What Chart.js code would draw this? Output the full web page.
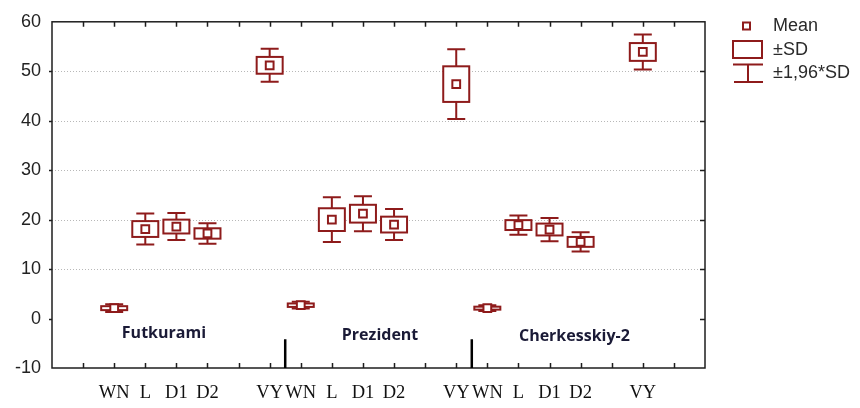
<!DOCTYPE html>
<html>
<head>
<meta charset="utf-8">
<script src="https://cdn.jsdelivr.net/npm/chart.js@4.4.1/dist/chart.umd.min.js"></script>
<style>
html, body { margin: 0; padding: 0; background: #fff; }
#wrap { width: 860px; height: 408px; }
</style>
</head>
<body>
<div id="wrap"><canvas id="plot"></canvas></div>
<script>
let groups = ['Futkurami', 'Prezident', 'Cherkesskiy-2'];
let categories = ['WN', 'L', 'D1', 'D2', 'VY'];
// slot of each category on the x axis, per group
let slots = [[2, 3, 4, 5, 7], [8, 9, 10, 11, 13], [14, 15, 16, 17, 19]];
let means = [
  [2.1, 18.1, 18.6, 17.2, 51.2],
  [2.7, 20.0, 21.2, 19.0, 47.4],
  [2.1, 18.9, 18.0, 15.5, 53.9]
];
let sds = [
  [0.4, 1.6, 1.4, 1.05, 1.7],
  [0.35, 2.3, 1.8, 1.6, 3.6],
  [0.3, 1.0, 1.2, 1.0, 1.8]
];
let groupBreaks = [7.5, 13.5];

let red = '#8e1b1b';

let xLabels = [];
for (let i = 0; i <= 21; i++) xLabels.push('');
groups.forEach((g, gi) => slots[gi].forEach((s, ci) => { xLabels[s] = categories[ci]; }));

let points = [];
groups.forEach((g, gi) => slots[gi].forEach((s, ci) => {
  points.push({ x: s, y: means[gi][ci], sd: sds[gi][ci] });
}));

// where the group names sit (x slot, y value)
let groupLabelPos = [[3.6, -3.0], [10.55, -3.4], [16.8, -3.6]];

let boxPlugin = {
  id: 'boxes',
  beforeDatasetsDraw(chart) {
    let c = chart.ctx, xs = chart.scales.x, ys = chart.scales.y, a = chart.chartArea;
    c.save();
    // dotted grid
    c.strokeStyle = '#b8b8b8';
    c.lineWidth = 1;
    c.setLineDash([1, 2]);
    [10, 20, 30, 40, 50].forEach(v => {
      let y = Math.round(ys.getPixelForValue(v)) + 0.5;
      c.beginPath(); c.moveTo(a.left, y); c.lineTo(a.right, y); c.stroke();
    });
    c.setLineDash([]);

    // boxes and whiskers
    c.strokeStyle = red;
    c.lineWidth = 2;
    points.forEach(p => {
      let x = xs.getPixelForValue(p.x);
      let wTop = ys.getPixelForValue(p.y + 1.96 * p.sd);
      let wBot = ys.getPixelForValue(p.y - 1.96 * p.sd);
      let bTop = ys.getPixelForValue(p.y + p.sd);
      let bBot = ys.getPixelForValue(p.y - p.sd);
      c.beginPath();
      c.moveTo(x, wTop); c.lineTo(x, bTop);
      c.moveTo(x, bBot); c.lineTo(x, wBot);
      c.moveTo(x - 9, wTop); c.lineTo(x + 9, wTop);
      c.moveTo(x - 9, wBot); c.lineTo(x + 9, wBot);
      c.stroke();
      c.fillStyle = '#fff';
      c.fillRect(x - 13, bTop, 26, bBot - bTop);
      c.strokeRect(x - 13, bTop, 26, bBot - bTop);
    });
    c.restore();
  },
  afterDraw(chart) {
    let c = chart.ctx, xs = chart.scales.x, ys = chart.scales.y, a = chart.chartArea;
    c.save();
    c.strokeStyle = '#1e1e1e';
    c.lineWidth = 1.5;
    c.strokeRect(a.left, a.top, a.right - a.left, a.bottom - a.top);

    // inward ticks top / bottom
    c.beginPath();
    for (let i = 1; i < 21; i++) {
      let x = Math.round(xs.getPixelForValue(i)) + 0.5;
      c.moveTo(x, a.top); c.lineTo(x, a.top + 5);
      c.moveTo(x, a.bottom); c.lineTo(x, a.bottom - 5);
    }
    for (let v = 0; v <= 50; v += 10) {
      let y = Math.round(ys.getPixelForValue(v)) + 0.5;
      c.moveTo(a.right, y); c.lineTo(a.right - 5, y);
      c.moveTo(a.left, y); c.lineTo(a.left - 3, y);
    }
    c.stroke();

    // group separators
    c.lineWidth = 2.5;
    c.strokeStyle = '#000';
    c.beginPath();
    groupBreaks.forEach(b => {
      let x = xs.getPixelForValue(b);
      c.moveTo(x, a.bottom); c.lineTo(x, ys.getPixelForValue(-4.2));
    });
    c.stroke();

    // group names
    c.fillStyle = '#1a1a36';
    c.font = 'bold 16px "Open Sans"';
    c.textAlign = 'center';
    c.textBaseline = 'middle';
    groups.forEach((g, gi) => {
      c.fillText(g, xs.getPixelForValue(groupLabelPos[gi][0]), ys.getPixelForValue(groupLabelPos[gi][1]));
    });

    // legend
    c.strokeStyle = red;
    c.lineWidth = 2;
    c.strokeRect(743, 22.5, 7, 7);
    c.strokeRect(733, 41, 29, 17);
    c.beginPath();
    c.moveTo(733, 64.5); c.lineTo(763, 64.5);
    c.moveTo(748, 64.5); c.lineTo(748, 82);
    c.moveTo(734, 82); c.lineTo(763, 82);
    c.stroke();
    c.fillStyle = '#2a2a2a';
    c.font = '18px "Liberation Sans"';
    c.textAlign = 'left';
    c.fillText('Mean', 773, 26);
    c.fillText('±SD', 773, 50);
    c.fillText('±1,96*SD', 773, 73);
    c.restore();
  }
};

let graph = new Chart(document.getElementById('plot').getContext('2d'), {
  type: 'scatter',
  data: {
    datasets: [{
      data: points,
      pointStyle: 'rect',
      pointRadius: 5.5,
      pointHoverRadius: 5.5,
      borderColor: red,
      backgroundColor: '#fff',
      borderWidth: 2
    }]
  },
  options: {
    responsive: true,
    maintainAspectRatio: false,
    animation: false,
    layout: { padding: { top: 18, right: 155, left: 0, bottom: 0 } },
    plugins: { legend: { display: false }, tooltip: { enabled: false } },
    scales: {
      x: {
        type: 'linear', min: 0, max: 21,
        afterFit: s => { s.height = 40; },
        afterBuildTicks: s => { s.ticks = xLabels.map((l, i) => ({ value: i })); },
        ticks: {
          autoSkip: false, maxRotation: 0, padding: 14,
          font: { family: 'Liberation Serif', size: 18.5 }, color: '#111',
          callback: v => xLabels[v]
        },
        grid: { display: false, drawTicks: false },
        border: { display: false }
      },
      y: {
        min: -10, max: 60,
        afterFit: s => { s.width = 52; },
        ticks: {
          stepSize: 10, padding: 11,
          font: { family: 'Liberation Sans', size: 18 }, color: '#222'
        },
        grid: { display: false, drawTicks: false },
        border: { display: false }
      }
    }
  },
  plugins: [boxPlugin]
});
</script>
</body>
</html>
